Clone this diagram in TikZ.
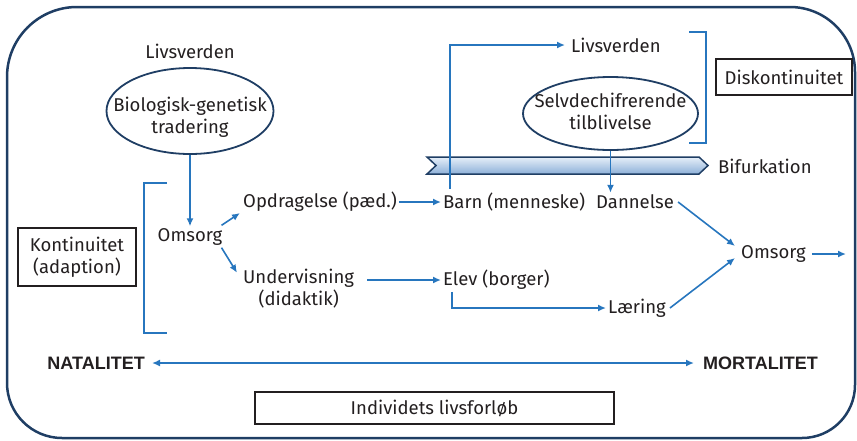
\documentclass[tikz,border=0pt]{standalone}
\usepackage{fontspec}
\setmainfont{Fira Sans}
\newfontfamily\boldlab{Liberation Sans}
\usetikzlibrary{shapes.geometric,arrows.meta}
\definecolor{navy}{HTML}{1F3E64}
\definecolor{arrblue}{HTML}{2776BE}
\definecolor{txtc}{HTML}{231F20}
\definecolor{barlight}{HTML}{E6EFF9}
\definecolor{bardark}{HTML}{8DB0D8}
\tikzset{
  txt/.style={font=\fontsize{18.5}{22}\selectfont, text=txtc, inner sep=2pt, align=center},
  boldtxt/.style={txt, font=\boldlab\fontsize{18}{21}\selectfont\bfseries},
  labbox/.style={txt, draw=txtc, line width=1.3pt, inner sep=0pt},
  ell/.style={ellipse, draw=navy, line width=1.8pt, inner sep=0pt},
  arr/.style={draw=arrblue, line width=1.6pt, -{Latex[length=8pt,width=7pt]}},
  darr/.style={draw=arrblue, line width=1.6pt, {Latex[length=8pt,width=7pt]}-{Latex[length=8pt,width=7pt]}},
  brk/.style={draw=arrblue, line width=1.6pt},
  frame/.style={draw=navy, line width=2.5pt},
}
\begin{document}
\begin{tikzpicture}[x=1pt,y=-1pt]
\useasboundingbox (0,0) rectangle (857,440);
% outer frame
\draw[frame] (7,77) arc[start angle=180,end angle=270,radius=70] -- (790,7)
  arc[start angle=270,end angle=360,radius=65] -- (855,385)
  arc[start angle=0,end angle=90,radius=53] -- (62,438)
  arc[start angle=90,end angle=180,radius=55] -- cycle;

% bifurcation bar
\draw[navy, line width=1.5pt, shading=axis, top color=barlight, bottom color=bardark]
  (427,157) -- (699,157) -- (708,165.5) -- (699,174) -- (427,174) -- (436,165.5) -- cycle;
\node[txt, anchor=west] (bif) at (716,166) {Bifurkation};

% left part
\node[txt] (livs1) at (190,51) {Livsverden};
\node[ell, minimum width=167pt, minimum height=86pt] (ell1) at (190,111) {};
\node[txt] (ell1t) at (190,117) {Biologisk-genetisk\\tradering};
\node[txt] (oms1) at (190,237) {Omsorg};
\node[labbox, minimum width=118pt, minimum height=58pt] (kont) at (77,257) {Kontinuitet\\(adaption)};
\draw[brk] (167,183) -- (144,183) -- (144,333) -- (167,333);

\node[txt, anchor=west] (opd) at (241,202) {Opdragelse (pæd.)};
\node[txt, anchor=west] (und) at (241,288.5) {Undervisning\\(didaktik)};

\node[txt, anchor=west] (barn) at (441,202) {Barn (menneske)};
\node[txt, anchor=west] (dann) at (594,202) {Dannelse};
\node[txt, anchor=west] (elev) at (441,280) {Elev (borger)};
\node[txt, anchor=west] (laer) at (606,308) {Læring};
\node[txt, anchor=west] (oms2) at (739,254) {Omsorg};
\coordinate (out) at (846,254);

% top right
\node[txt, anchor=west] (livs2) at (569,45) {Livsverden};
\node[ell, minimum width=175pt, minimum height=73pt] (ell2) at (610.5,113.5) {};
\node[txt] (ell2t) at (610.5,111) {Selvdechifrerende\\tilblivelse};
\draw[brk] (689,32) -- (706,32) -- (706,143) -- (689,143);
\node[labbox, minimum width=136pt, minimum height=36pt] (disk) at (784,77) {Diskontinuitet};

% bottom
\node[boldtxt, anchor=east] (nat) at (147,363) {NATALITET};
\node[boldtxt, anchor=west] (mort) at (701,363) {MORTALITET};
\node[labbox, minimum width=359pt, minimum height=32pt] (ind) at (434.5,408) {Individets livsforløb};

% connectors
\draw[arr] (ell1.south) -- (oms1.north);
\draw[arr] ([xshift=-3pt,yshift=1pt]oms1.north east) -- ([xshift=-1pt,yshift=1pt]opd.south west);
\draw[arr] ([xshift=-3pt,yshift=0pt]oms1.south east) -- ([xshift=-4pt,yshift=-6pt]und.north west);
\draw[arr] (opd.east) -- (barn.west);
\draw[arr, shorten <=11pt] (und.east |- elev.west) -- (elev.west);
\draw[arr] ([xshift=11pt]elev.south west) |- (laer.west);
\draw[arr] ([xshift=2pt]laer.east) -- ([xshift=-4pt,yshift=-4pt]oms2.west);
\draw[arr] ([xshift=2pt]dann.east) -- ([xshift=-4pt,yshift=8pt]oms2.west);
\draw[arr] ([xshift=4pt]oms2.east) -- (out);
\draw[arr] ([xshift=9pt,yshift=2pt]barn.north west) |- ([xshift=-4pt]livs2.west);
\draw[arr] (ell2.south) -- (ell2.south |- dann.north);
\draw[darr] ([xshift=5pt]nat.east) -- ([xshift=-7pt]mort.west);
\end{tikzpicture}
\end{document}
